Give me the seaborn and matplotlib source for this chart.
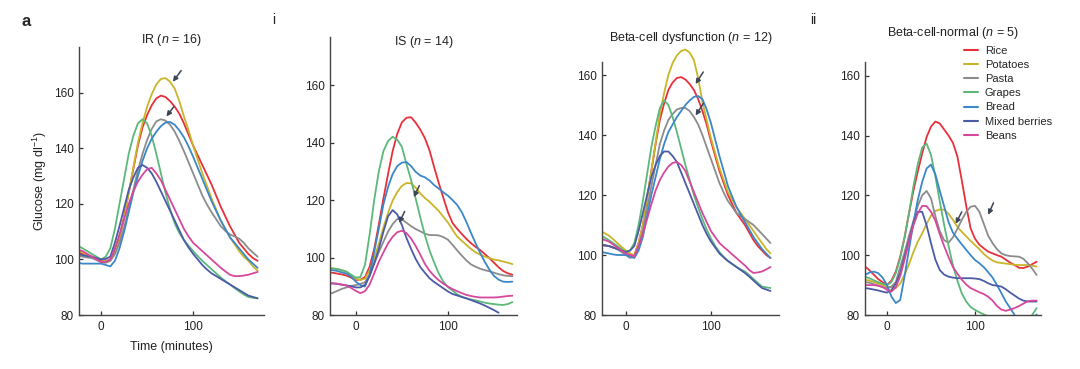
import numpy as np
import pandas as pd
import matplotlib
matplotlib.use("Agg")
import matplotlib.pyplot as plt
import seaborn as sns

# time grid (minutes) shared by all panels, every 5 min
time = list(range(-30, 171, 5))

foods = ["Rice", "Potatoes", "Pasta", "Grapes", "Bread", "Mixed berries", "Beans"]
colors = ["#e8303a", "#c9b52a", "#8c8c8c", "#5cb87a", "#3b87c8", "#4b5ba6", "#d6489c"]
nan = np.nan

# ---- IR (n = 16) ----
ir_rice = [103, 102.5, 102, 101.5, 101, 100.2, 99.5, 99.3, 100, 103,
           108, 115.5, 124, 132.5, 141, 147.5, 152, 155.5, 158, 159,
           158.5, 157, 155, 152.5, 149, 145, 141, 137.5, 134, 130.5,
           127, 123, 119, 115.5, 112, 109, 106, 104, 102, 100.5,
           99.5]
ir_potatoes = [104, 103.3, 102.5, 101.7, 101, 100.5, 100, 99.6, 99.5, 102,
               107, 115, 124, 133, 142, 149, 155, 159.5, 163, 165,
               165.3, 164, 161.5, 157, 151.5, 146.5, 141, 136, 131, 126.5,
               122, 118, 114, 111, 108, 105.5, 103, 101, 99.5, 97.5,
               96]
ir_pasta = [101.5, 101.3, 101, 100.7, 100.5, 99.8, 99, 98.8, 99.5, 102,
            106, 111.5, 118, 125, 132, 138, 143, 147, 149.7, 150.5,
            150, 148.5, 146, 142.7, 139, 135, 131, 127, 123, 119.8,
            117, 114.5, 112, 110.3, 109, 108.3, 107.5, 106, 104, 102.5,
            101]
ir_grapes = [105.5, 104.8, 104, 103, 102, 101, 100, 101, 104, 111,
             120, 129, 138, 144.5, 149, 150.5, 149, 144.5, 138, 131,
             124, 118, 113, 109.5, 107, 105, 103, 101.2, 99.5, 98,
             96.5, 95, 93.5, 92.2, 91, 89.7, 88.5, 87.4, 86.5, 86.2,
             86]
ir_bread = [99, 98.8, 98.5, 98.5, 98.5, 98.5, 98.5, 98, 97.5, 99.5,
            104, 110, 117, 124, 130, 135.5, 140, 143.5, 146, 148,
            149.3, 149.5, 148.5, 146.5, 144, 140.7, 137, 133, 129, 125,
            121, 117.5, 114, 111, 108, 106, 104, 102, 100, 98.5,
            97]
ir_berries = [102.5, 102, 101.5, 101.2, 101, 100.5, 100, 100.2, 101, 106,
              112, 118.5, 125, 129.5, 133, 134, 133, 131, 128, 124.5,
              121, 117.5, 114, 110.5, 107, 104.3, 102, 100, 98, 96.4,
              95, 94, 93, 92, 91, 90, 89, 88, 87, 86.5,
              86]
ir_beans = [104, 103.5, 103, 102, 101, 100, 99, 99.2, 100, 104,
            109, 114.5, 120, 124.5, 128, 130.5, 132.5, 133, 131, 128.5,
            125, 121.5, 118, 114.5, 111, 108.3, 106, 104.5, 103, 101.5,
            100, 98.5, 97, 95.7, 94.5, 94, 94, 94.2, 94.5, 95,
            95.5]

# ---- IS (n = 14) ----
is_rice = [94.8, 94.7, 94.4, 94.1, 93.7, 93, 92.2, 92.3, 93.2, 96.8,
           103, 111.5, 120.5, 129, 137, 143, 147, 148.6, 148.8, 146.9,
           144.5, 141.5, 137.3, 131.5, 126, 120.8, 115.8, 112, 110, 108.2,
           106.5, 105, 103.7, 102.6, 101.2, 99.8, 98.2, 96.6, 95.3, 94.5,
           94]
is_potatoes = [96.3, 96.2, 96, 95.5, 95, 93.8, 92.6, 92.2, 92.6, 95.5,
               99.8, 104.8, 110.5, 115.5, 119.8, 122.8, 124.9, 125.9, 125.8, 124.3,
               122.3, 120.7, 119.4, 117.8, 116.2, 114.2, 112.2, 109.6, 107.3, 105.8,
               104.4, 103, 101.8, 101, 100.3, 99.8, 99.3, 99, 98.6, 98.2,
               97.7]
is_pasta = [87.2, 87.7, 88.4, 89.1, 89.6, 90.1, 90.4, 90.8, 91.4, 94,
            97.8, 101.8, 105.5, 109, 111.6, 113.4, 113.3, 112.1, 110.9, 109.9,
            109.1, 108.3, 107.8, 107.8, 107.7, 107.1, 106.2, 104.4, 102.5, 100.7,
            99, 97.6, 96.8, 96.1, 95.6, 95.2, 94.7, 94.2, 93.8, 93.6,
            93.5]
is_grapes = [96.3, 96.2, 96, 95.6, 95.1, 94, 93, 93.2, 97.5, 108,
             120, 130, 137, 140.5, 142, 141, 138.5, 132.5, 127, 120.5,
             114, 107.8, 102.5, 98.3, 94.5, 91.6, 89.7, 88.5, 87.2, 86.3,
             85.8, 85.4, 85.1, 84.7, 84.3, 84, 83.8, 83.6, 83.5, 83.8,
             84.5]
is_bread = [95.7, 95.6, 95.3, 94.8, 94.4, 93.3, 91.6, 90.4, 89.9, 94,
            102, 110, 118.5, 124.5, 129, 131.8, 133, 133.2, 131.8, 129.8,
            128.5, 127.9, 126.8, 125.2, 124, 122.7, 121.5, 120, 118.3, 115.8,
            112.4, 108.6, 105, 101.6, 98.5, 95.8, 93.6, 92.3, 91.6, 91.5,
            91.6]
is_berries = [91, 91, 90.8, 90.5, 90.3, 90, 89.6, 89.6, 90.5, 93.5,
              98, 103, 109, 114.3, 116.5, 115, 111.3, 106.8, 103, 99.5,
              96.7, 94.7, 92.8, 91.5, 90.4, 89.3, 88.2, 87.3, 86.8, 86.3,
              85.8, 85.2, 84.6, 84, 83.3, 82.5, 81.7, 80.8, nan, nan,
              nan]
is_beans = [91, 91, 90.9, 90.6, 90.2, 89.4, 88.4, 87.6, 88.3, 90.6,
            94.5, 98.5, 101.8, 104.9, 107.2, 108.8, 109.3, 108.5, 106.6, 104,
            101, 97.8, 95.4, 93.6, 92.1, 90.9, 89.9, 89, 88.3, 87.6,
            87, 86.6, 86.3, 86.1, 86.1, 86.1, 86.1, 86.2, 86.4, 86.6,
            86.7]

# ---- Beta-cell dysfunction (n = 12) ----
bd_rice = [103.5, 103.2, 103, 102.5, 102, 101.2, 100.5, 100, 100, 104,
           110, 119, 128, 137, 145, 150.5, 155, 157.5, 159, 159.3,
           158.5, 157, 155, 152, 148, 143.5, 138, 133, 128, 124,
           120, 117, 114, 112, 110, 107.5, 105, 103, 101.5, 100,
           99]
bd_potatoes = [108, 107.3, 106.5, 105.3, 104, 102.7, 101.5, 100.5, 100, 104,
               110, 119, 128, 137.5, 147, 154, 160, 164, 166.5, 168,
               168.5, 167.5, 165, 159, 151, 145, 139, 134, 129, 125,
               121, 118.5, 116, 114, 112, 110, 108, 106, 104, 102,
               100.5]
bd_pasta = [103.5, 103.2, 103, 102.5, 102, 101, 100, 99, 99.5, 103,
            108, 115.5, 123, 130, 137, 141.5, 145, 147, 148.5, 149,
            149, 148, 146, 143.5, 140, 136, 132, 128, 124, 120.8,
            118, 116, 114, 113, 112, 111, 110, 108.5, 107, 105.5,
            104]
bd_grapes = [106.5, 105.8, 105, 104, 103, 102, 101, 101.5, 104, 110,
             118, 127, 136, 143, 149, 151.5, 150, 146, 141, 135.5,
             130, 125, 120, 115.8, 112, 108.5, 105.5, 103, 101, 99.4,
             98, 97, 96, 95.2, 94.5, 93.3, 92, 90.7, 89.5, 89.2,
             89]
bd_bread = [101, 100.8, 100.5, 100.2, 100, 100, 100, 99.5, 99, 101.5,
            106, 113, 120, 126, 132, 137, 141, 143.5, 146, 148,
            150, 151.5, 152.7, 153, 152, 148.5, 144, 138.5, 133, 128,
            123, 119.5, 116, 113.5, 111, 108.5, 106, 104, 102, 100.5,
            99]
bd_berries = [103.5, 103.2, 103, 102.5, 102, 101.5, 101, 101.5, 103, 108,
              114, 120, 126, 130, 133, 134.5, 134.5, 133, 131, 127.5,
              124, 120.5, 117, 113.5, 110, 107, 104.5, 102.5, 100.5, 99.2,
              98, 97, 96, 95, 94, 92.8, 91.5, 90.2, 89, 88.5,
              88]
bd_beans = [105.5, 105, 104.5, 103.5, 102.5, 101.5, 100.5, 100, 99.5, 103,
            107, 112, 117, 121.5, 125, 127.5, 129.5, 130.7, 131, 130,
            128, 124.5, 121, 117.5, 114, 111, 108, 106, 104, 102.7,
            101.5, 100.2, 99, 97.7, 96.5, 95, 94, 94.2, 94.5, 95.2,
            96]

# ---- Beta-cell-normal (n = 5) ----
bn_rice = [97, 96.2, 95, 93.5, 92, 91, 90, 91.5, 94.5, 99.5,
           106, 114, 121.5, 128, 134, 139.5, 143, 144.7, 144, 142,
           140, 137.5, 133, 125, 116.5, 109, 105.5, 103.5, 102.3, 101.2,
           100.6, 100, 99.5, 98.5, 97.5, 96.7, 95.8, 95.7, 96.2, 97,
           97.8]
bn_potatoes = [92, 91.8, 91.5, 91, 90.5, 90, 89.5, 89.2, 89, 90.5,
               93.5, 97, 101, 104.5, 107.3, 110.5, 113.2, 114.8, 115.3, 115.2,
               113.8, 111.8, 109.5, 107.8, 106.3, 104.8, 103.4, 102, 100.4, 99.2,
               98.2, 97.6, 97.4, 97.2, 97, 96.8, 96.7, 96.7, 96.7, 96.5,
               96.2]
bn_pasta = [91, 91, 90.8, 90.3, 89.8, 89.3, 89, 89.5, 91, 96,
            101, 106.5, 111.5, 116.5, 120, 121.5, 119, 113, 108, 105,
            104.2, 106, 108.8, 111.8, 114.5, 116.2, 116.5, 114.5, 110.5, 106.5,
            104, 102, 100.6, 100, 99.7, 99.6, 99.5, 98.8, 97.3, 95.5,
            93.4]
bn_grapes = [93, 92.8, 92.3, 91.6, 91, 90.4, 90, 91, 94, 99,
             106, 114, 123, 130.5, 136, 137.3, 133.5, 126.3, 118, 110,
             103, 96.5, 91.5, 87.2, 84.5, 82.7, 81.7, 80.9, 80.2, 79.6,
             79, 78, 77, 76.5, 76, 76, 76.3, 77, 78, 80,
             82.3]
bn_bread = [93, 93.4, 94.2, 94.5, 94, 92.5, 90, 86.2, 84, 85,
            93, 102, 110.7, 118.5, 124.5, 129, 130.3, 127, 121.5, 116.3,
            111, 107.5, 105.5, 103.6, 101.8, 100, 98.4, 97.3, 96, 94.3,
            92.5, 90, 87.3, 84.5, 82.3, 80, 78, 77, 77, 78,
            80.2]
bn_berries = [89, 89, 88.8, 88.5, 88.2, 87.8, 87.5, 88.3, 90.5, 94,
              99.5, 105, 110.5, 114.5, 114.5, 110, 104, 98.5, 95, 93.5,
              92.8, 92.5, 92.3, 92.3, 92.3, 92.3, 92.2, 92, 91.4, 90.6,
              90, 89.8, 89.5, 88.6, 87.5, 86.5, 85.5, 84.8, 84.5, 84.5,
              84.5]
bn_beans = [90, 90, 90, 90, 89.8, 89.4, 88.4, 87.8, 89.3, 93,
            98.5, 104.5, 110, 114, 116.5, 116.4, 114.5, 111.5, 107, 103,
            99.3, 96, 93.8, 91.8, 90.2, 89, 88.3, 87.6, 87, 86.1,
            84.8, 83, 81.8, 81.4, 81.8, 82.3, 83, 83.8, 84.6, 84.8,
            84.8]

panels = [
    ("IR", 16, [ir_rice, ir_potatoes, ir_pasta, ir_grapes, ir_bread, ir_berries, ir_beans]),
    ("IS", 14, [is_rice, is_potatoes, is_pasta, is_grapes, is_bread, is_berries, is_beans]),
    ("Beta-cell dysfunction", 12, [bd_rice, bd_potatoes, bd_pasta, bd_grapes, bd_bread, bd_berries, bd_beans]),
    ("Beta-cell-normal", 5, [bn_rice, bn_potatoes, bn_pasta, bn_grapes, bn_bread, bn_berries, bn_beans]),
]

# arrow (tip, tail) in (time, glucose)
arrows = [
    [((78, 164), (87, 168)), ((71, 151.5), (79, 155))],
    [((63, 121), (69, 125)), ((47, 112), (53, 116))],
    [((82, 157), (91, 161)), ((82, 146.5), (91, 150.5))],
    [((78, 110.5), (85, 114.5)), ((115, 113.5), (121, 117.5))],
]

sns.set_style("ticks")
plt.rcParams["font.family"] = ["Liberation Sans", "DejaVu Sans"]
plt.rcParams["mathtext.fontset"] = "custom"
plt.rcParams["mathtext.rm"] = "Liberation Sans"
plt.rcParams["mathtext.it"] = "Liberation Sans:italic"

W, H = 1080, 369
fig = plt.figure(figsize=(W / 100, H / 100), dpi=100)

# axes boxes in pixels: left, right, top, bottom ; xlim ; ylim ; spine top ; title y
boxes = [
    (79, 264, 47, 315, (-24, 177), (80, 176.5), 176.5, 40),
    (330, 517, 37, 315, (-28, 175), (80, 176.7), 176.7, 42),
    (602, 779, 45, 315, (-28, 180), (80, 170), 164.3, 38),
    (865, 1041, 62, 315, (-25, 175), (80, 164.6), 164.6, 33),
]

pal = dict(zip(foods, colors))
axes = []
for i, ((name, n, series), box) in enumerate(zip(panels, boxes)):
    l, r, t, b, xl, yl, ytop, ty = box
    ax = fig.add_axes([l / W, 1 - b / H, (r - l) / W, (b - t) / H])
    df = pd.concat([pd.DataFrame({"time": time, "glucose": s, "food": f})
                    for f, s in zip(foods, series)], ignore_index=True)
    sns.lineplot(data=df, x="time", y="glucose", hue="food", palette=pal,
                 hue_order=foods, errorbar=None, lw=1.3, ax=ax,
                 legend=(i == 3))
    ax.set_xlim(*xl)
    ax.set_ylim(*yl)
    ax.set_xticks([0, 100])
    ax.set_yticks([80, 100, 120, 140, 160])
    ax.set_xlabel("")
    ax.set_ylabel("")
    sns.despine(ax=ax)
    ax.spines["left"].set_bounds(80, ytop)
    for s in ["left", "bottom"]:
        ax.spines[s].set_color("#444444")
        ax.spines[s].set_linewidth(1.0)
    ax.tick_params(direction="in", length=3, width=0.9, color="#333333",
                   labelsize=8.5, labelcolor="#222222", pad=4)
    for tip, tail in arrows[i]:
        ax.annotate("", xy=tip, xytext=tail,
                    arrowprops=dict(arrowstyle="-|>", color="#3d4656",
                                    lw=1.1, mutation_scale=7, shrinkA=0, shrinkB=0))
    fig.text((l + r) / 2 / W, 1 - ty / H, name + r" ($n$ = " + str(n) + ")",
             ha="center", va="center", fontsize=9, color="#222222")
    if i == 3:
        leg = ax.legend(loc="upper left", bbox_to_anchor=(958 / W, 1 - 40 / H),
                        bbox_transform=fig.transFigure, frameon=False,
                        fontsize=8, handlelength=1.3, handletextpad=0.6,
                        labelspacing=0.38, borderpad=0)
        for line in leg.get_lines():
            line.set_linewidth(1.5)
    axes.append(ax)

axes[0].set_ylabel(r"Glucose (mg dl$^{-1}$)", fontsize=9, color="#222222", labelpad=3.5)
axes[0].set_xlabel("Time (minutes)", fontsize=9, color="#222222", labelpad=6)

fig.text(22 / W, 1 - 22 / H, "a", fontsize=12, fontweight="bold", va="center")
fig.text(272 / W, 1 - 20 / H, "i", fontsize=10, va="center")
fig.text(810 / W, 1 - 20 / H, "ii", fontsize=10, va="center")

fig.savefig("out.png", dpi=100)
